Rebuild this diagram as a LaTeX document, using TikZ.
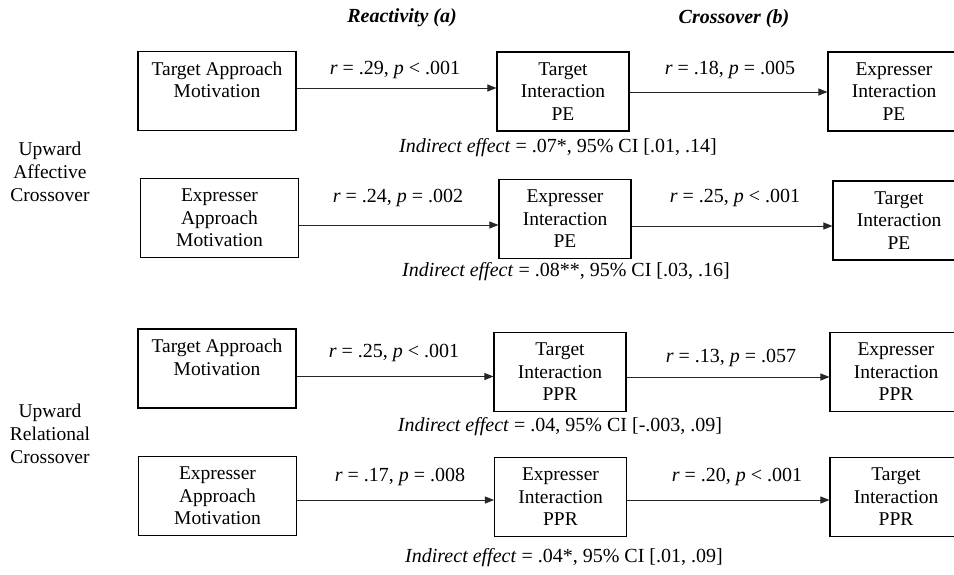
\documentclass[tikz,border=0pt]{standalone}
\usepackage{fontspec}
\setmainfont{Liberation Serif}
\usetikzlibrary{arrows.meta}
\begin{document}
\begin{tikzpicture}[x=1pt,y=-1pt,
  boxbase/.style={draw=black, line width=1.1pt, minimum height=79pt, inner sep=0pt, align=center, font=\fontsize{19.5}{22.5}\selectfont},
  abox/.style={boxbase, minimum width=158pt},
  bbox/.style={boxbase, minimum width=132pt},
  arr/.style={draw=black!85, line width=0.9pt, -{Triangle[length=9pt,width=7pt]}},
  lbl/.style={font=\fontsize{20}{23}\selectfont, inner sep=0pt},
  head/.style={font=\fontsize{20}{23}\selectfont\bfseries\itshape, inner sep=0pt},
  side/.style={font=\fontsize{19.5}{23}\selectfont, align=center, inner sep=0pt}]
\useasboundingbox (0,0) rectangle (954,574);

% headers
\node[head] (h1) at (402,18) {Reactivity (a)};
\node[head] (h2) at (734,19) {Crossover (b)};

% side labels
\node[side] (s1) at (50,172) {Upward\\Affective\\Crossover};
\node[side] (s2) at (50,434) {Upward\\Relational\\Crossover};

% row 1
\node[abox] (A1) at (217,91) {Target Approach\\Motivation\\~};
\node[bbox] (B1) at (563,91.5) {Target\\Interaction\\PE};
\node[bbox] (C1) at (894,91.5) {Expresser\\Interaction\\PE};
\draw[arr] ([yshift=3pt]A1.east) coordinate (p1) -- (p1 -| B1.west);
\draw[arr] ([yshift=-0.5pt]B1.east) coordinate (q1) -- (q1 -| C1.west);
\node[lbl] (r1a) at (395,70) {\textit{r} = .29, \textit{p} < .001};
\node[lbl] (r1b) at (730,70) {\textit{r} = .18, \textit{p} = .005};
\node[lbl] (i1) at (558,148) {\textit{Indirect effect} = .07*, 95\% CI [.01, .14]};

% row 2
\node[abox] (A2) at (219.5,218) {Expresser\\Approach\\Motivation};
\node[bbox] (B2) at (565,219) {Expresser\\Interaction\\PE};
\node[bbox] (C2) at (899,220.5) {Target\\Interaction\\PE};
\draw[arr] ([yshift=-7pt]A2.east) coordinate (p2) -- (p2 -| B2.west);
\draw[arr] ([yshift=-7pt]B2.east) coordinate (q2) -- (q2 -| C2.west);
\node[lbl] (r2a) at (398,198) {\textit{r} = .24, \textit{p} = .002};
\node[lbl] (r2b) at (735,198) {\textit{r} = .25, \textit{p} < .001};
\node[lbl] (i2) at (566,272) {\textit{Indirect effect} = .08**, 95\% CI [.03, .16]};

% row 3
\node[abox] (A3) at (217,368.5) {Target Approach\\Motivation\\~};
\node[bbox] (B3) at (560,372) {Target\\Interaction\\PPR};
\node[bbox] (C3) at (896,372) {Expresser\\Interaction\\PPR};
\draw[arr] ([yshift=-8pt]A3.east) coordinate (p3) -- (p3 -| B3.west);
\draw[arr] ([yshift=-5pt]B3.east) coordinate (q3) -- (q3 -| C3.west);
\node[lbl] (r3a) at (394,353) {\textit{r} = .25, \textit{p} < .001};
\node[lbl] (r3b) at (731,358) {\textit{r} = .13, \textit{p} = .057};
\node[lbl] (i3) at (560,427) {\textit{Indirect effect} = .04, 95\% CI [-.003, .09]};

% row 4
\node[abox] (A4) at (217.5,496) {Expresser\\Approach\\Motivation};
\node[bbox] (B4) at (560.5,497) {Expresser\\Interaction\\PPR};
\node[bbox] (C4) at (896,497) {Target\\Interaction\\PPR};
\draw[arr] ([yshift=-4pt]A4.east) coordinate (p4) -- (p4 -| B4.west);
\draw[arr] ([yshift=-3pt]B4.east) coordinate (q4) -- (q4 -| C4.west);
\node[lbl] (r4a) at (400,477) {\textit{r} = .17, \textit{p} = .008};
\node[lbl] (r4b) at (737,477) {\textit{r} = .20, \textit{p} < .001};
\node[lbl] (i4) at (564,558) {\textit{Indirect effect} = .04*, 95\% CI [.01, .09]};
\end{tikzpicture}
\end{document}
